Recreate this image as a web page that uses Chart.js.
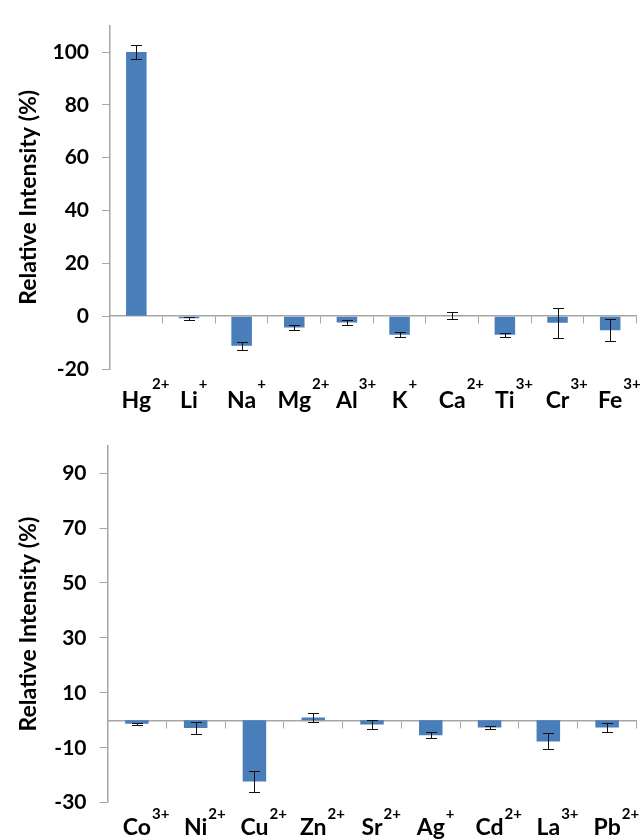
<!DOCTYPE html>
<html>
<head>
<meta charset="utf-8">
<script src="https://cdn.jsdelivr.net/npm/chart.js@4.4.1/dist/chart.umd.min.js"></script>
<style>
  html, body { margin: 0; padding: 0; background: #ffffff; }
  body { width: 642px; height: 839px; position: relative; overflow: hidden; }
  canvas { position: absolute; left: 0; }
  #c1 { top: 0; }
  #c2 { top: 420px; }
</style>
</head>
<body>
<canvas id="c1" width="642" height="420"></canvas>
<canvas id="c2" width="642" height="419"></canvas>
<script>
// ---- Data ----
const ions1    = ['Hg', 'Li', 'Na', 'Mg', 'Al', 'K', 'Ca', 'Ti', 'Cr', 'Fe'];
const charges1 = ['2+', '+', '+', '2+', '3+', '+', '2+', '3+', '3+', '3+'];
const values1  = [100, -0.8, -11.2, -4.3, -2.4, -7.0, 0.3, -7.0, -2.5, -5.3];
const errors1  = [2.6, 0.6, 1.6, 1.0, 0.9, 0.9, 1.4, 0.7, 5.7, 4.1];
const yTicks1  = [-20, 0, 20, 40, 60, 80, 100];

const ions2    = ['Co', 'Ni', 'Cu', 'Zn', 'Sr', 'Ag', 'Cd', 'La', 'Pb'];
const charges2 = ['3+', '2+', '2+', '2+', '2+', '+', '2+', '3+', '2+'];
const values2  = [-1.3, -2.8, -22.3, 1.0, -1.5, -5.4, -2.6, -7.7, -2.6];
const errors2  = [0.3, 2.1, 3.9, 1.5, 1.5, 1.1, 0.4, 2.9, 1.7];
const yTicks2  = [-30, -10, 10, 30, 50, 70, 90];

const yTitle = 'Relative Intensity (%)';

// ---- Styles ----
const BAR = '#4A7EBB';
const AXIS = '#A6A6A6';
const FONT = 'Lato, "Open Sans", sans-serif';

const errorBarPlugin = {
  id: 'errorBars',
  afterDatasetsDraw(chart) {
    const ds = chart.data.datasets[0];
    const meta = chart.getDatasetMeta(0);
    const ys = chart.scales.y;
    const ctx = chart.ctx;
    ctx.save();
    ctx.strokeStyle = '#111';
    ctx.lineWidth = 1;
    meta.data.forEach((bar, i) => {
      const v = ds.data[i], e = ds.errors[i];
      const x = Math.round(bar.x) + 0.5;
      const top = Math.round(ys.getPixelForValue(v + e)) + 0.5;
      const bot = Math.round(ys.getPixelForValue(v - e)) + 0.5;
      const hw = 5.5;
      ctx.beginPath();
      ctx.moveTo(x, top); ctx.lineTo(x, bot);
      ctx.moveTo(x - hw, top); ctx.lineTo(x + hw, top);
      ctx.moveTo(x - hw, bot); ctx.lineTo(x + hw, bot);
      ctx.stroke();
    });
    ctx.restore();
  }
};

const ionLabelPlugin = {
  id: 'ionLabels',
  afterDraw(chart, args, opts) {
    const ctx = chart.ctx;
    const xs = chart.scales.x;
    const base = chart.chartArea.bottom + opts.offset;
    ctx.save();
    ctx.fillStyle = '#000';
    ctx.textBaseline = 'alphabetic';
    opts.ions.forEach((ion, i) => {
      const cx = xs.getPixelForValue(i);
      ctx.font = 'bold 23px ' + FONT;
      ctx.textAlign = 'center';
      ctx.fillText(ion, cx, base);
      const w = ctx.measureText(ion).width;
      ctx.font = 'bold 15px ' + FONT;
      ctx.textAlign = 'left';
      ctx.fillText(opts.charges[i], cx + w / 2 + 1, base - opts.supRise);
    });
    ctx.restore();
  }
};

function makeChart(id, cfg) {
  return new Chart(document.getElementById(id), {
    type: 'bar',
    data: {
      labels: cfg.ions,
      datasets: [{
        data: cfg.values,
        errors: cfg.errors,
        backgroundColor: BAR,
        borderWidth: 0,
        barPercentage: cfg.barPct,
        categoryPercentage: 1.0,
        xAxisID: 'x',
        yAxisID: 'y'
      }]
    },
    options: {
      responsive: false,
      animation: false,
      devicePixelRatio: 1,
      layout: { padding: { top: cfg.padTop, right: 5.5, bottom: 0, left: 0 } },
      plugins: {
        legend: { display: false },
        tooltip: { enabled: false },
        ionLabels: { ions: cfg.ions, charges: cfg.charges, offset: cfg.labelOffset, supRise: cfg.supRise }
      },
      scales: {
        x: {
          type: 'category',
          position: 'bottom',
          grid: { display: false },
          border: { display: false },
          ticks: { display: false },
          afterFit: (s) => { s.height = cfg.xHeight; }
        },
        x2: {
          type: 'category',
          axis: 'x',
          labels: cfg.ions,
          offset: true,
          position: { y: 0 },
          grid: { display: true, offset: true, drawOnChartArea: false, drawTicks: true, tickLength: 7, color: AXIS, lineWidth: 1 },
          border: { display: true, color: AXIS, width: 1.5 },
          ticks: { display: false }
        },
        y: {
          min: cfg.min,
          max: cfg.max,
          afterBuildTicks: (s) => { s.ticks = cfg.yTicks.map(v => ({ value: v })); },
          afterFit: (s) => { s.width = cfg.yWidth; },
          grid: { display: true, drawOnChartArea: false, drawTicks: true, tickLength: 8, color: AXIS, lineWidth: 1 },
          border: { display: true, color: AXIS, width: 1.5 },
          ticks: {
            color: '#000',
            padding: 13,
            font: { family: FONT, size: 21, weight: 'bold' }
          },
          title: {
            display: true,
            text: yTitle,
            color: '#000',
            padding: { top: 15, bottom: 0 },
            font: { family: FONT, size: 23, weight: 'bold' }
          }
        }
      }
    },
    plugins: [errorBarPlugin, ionLabelPlugin]
  });
}

function draw() {
  makeChart('c1', {
    ions: ions1, charges: charges1, values: values1, errors: errors1, yTicks: yTicks1,
    min: -20, max: 110, barPct: 0.39, padTop: 15, yWidth: 110, xHeight: 51,
    labelOffset: 39.3, supRise: 19
  });
  makeChart('c2', {
    ions: ions2, charges: charges2, values: values2, errors: errors2, yTicks: yTicks2,
    min: -30, max: 100, barPct: 0.40, padTop: 22.7, yWidth: 107.5, xHeight: 36.3,
    labelOffset: 32.3, supRise: 16
  });
}

if (document.fonts && document.fonts.load) {
  Promise.all([
    document.fonts.load('bold 23px Lato'),
    document.fonts.load('bold 15px Lato')
  ]).then(draw, draw);
} else {
  draw();
}
</script>
</body>
</html>
